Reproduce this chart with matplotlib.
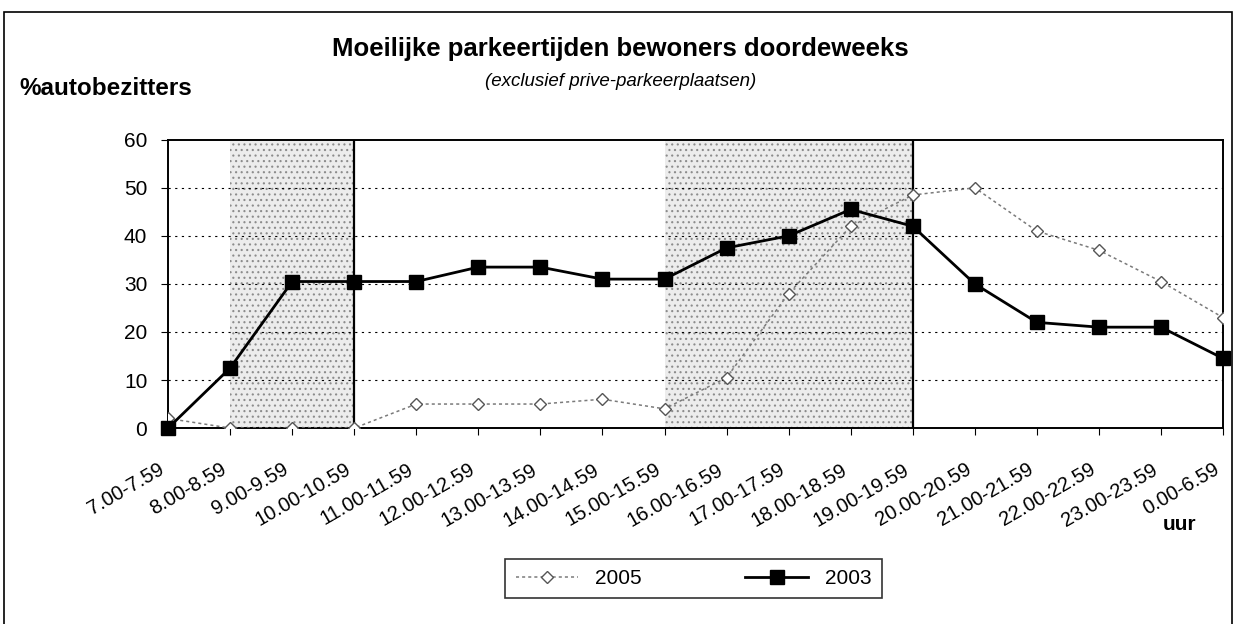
import numpy as np
import matplotlib
matplotlib.use("Agg")
import matplotlib.pyplot as plt
from matplotlib.patches import Rectangle

plt.rcParams.update({
    "font.family": ["Liberation Sans", "DejaVu Sans"],
    "hatch.linewidth": 0.8,
})

# data
categories = ["7.00-7.59", "8.00-8.59", "9.00-9.59", "10.00-10.59", "11.00-11.59",
              "12.00-12.59", "13.00-13.59", "14.00-14.59", "15.00-15.59",
              "16.00-16.59", "17.00-17.59", "18.00-18.59", "19.00-19.59",
              "20.00-20.59", "21.00-21.59", "22.00-22.59", "23.00-23.59",
              "0.00-6.59"]
y2005 = [2, 0, 0, 0, 5, 5, 5, 6, 4, 10.5, 28, 42, 48.5, 50, 41, 37, 30.5, 23]
y2003 = [0, 12.5, 30.5, 30.5, 30.5, 33.5, 33.5, 31, 31, 37.5, 40, 45.5, 42,
         30, 22, 21, 21, 14.5]
busy_spans = [(1, 3), (8, 12)]   # shaded (stippled) periods
dividers = [3, 12]

fig = plt.figure(figsize=(12.36, 6.24), dpi=100)
fig.patches.append(Rectangle((0.003, -0.01), 0.994, 0.99, transform=fig.transFigure,
                             fill=False, edgecolor="black", linewidth=1.2))

ax = fig.add_axes([0.136, 0.314, 0.8535, 0.462])
x = np.arange(len(categories))

for a, b in busy_spans:
    ax.axvspan(a, b, facecolor="#ececec", edgecolor="#8c8c8c", hatch="...",
               linewidth=0, zorder=0)
for d in dividers:
    ax.axvline(d, color="black", linewidth=1.6, zorder=1)

ax.set_yticks(range(0, 61, 10))
for v in range(10, 60, 10):
    ax.axhline(v, color="black", linestyle=(0, (2, 4)), linewidth=0.8, zorder=1)

ax.plot(x, y2005, color="#7a7a7a", linestyle=(0, (2, 2)), linewidth=1.1,
        marker="D", markersize=6, markerfacecolor="white",
        markeredgecolor="#555555", markeredgewidth=1.0, label="2005", zorder=3)
ax.plot(x, y2003, color="black", linewidth=2.0, marker="s", markersize=10,
        markerfacecolor="black", markeredgecolor="black", label="2003", zorder=4,
        clip_on=False)

ax.set_xlim(0, len(categories) - 1)
ax.set_ylim(0, 60)
ax.set_xticks(x)
ax.set_xticklabels([])
# category labels sit a little left of and below their tick, as in Excel
for i, lab in zip(x, categories):
    ax.annotate(lab, (i, 0), xycoords=("data", "axes fraction"),
                xytext=(-7, -23), textcoords="offset points", rotation=30,
                ha="right", va="top", rotation_mode="anchor", fontsize=14.5,
                annotation_clip=False)
ax.tick_params(axis="y", labelsize=15, direction="out", length=5, pad=10)
ax.tick_params(axis="x", direction="out", length=5)
for s in ax.spines.values():
    s.set_linewidth(1.4)

fig.text(0.502, 0.922, "Moeilijke parkeertijden bewoners doordeweeks",
         ha="center", va="center", fontsize=18.5, fontweight="bold")
fig.text(0.502, 0.870, "(exclusief prive-parkeerplaatsen)", ha="center",
         va="center", fontsize=13.5, style="italic")
fig.text(0.016, 0.858, "%autobezitters", ha="left", va="center",
         fontsize=17.5, fontweight="bold")
fig.text(0.941, 0.159, "uur", ha="left", va="center", fontsize=15,
         fontweight="bold")

leg = fig.legend(loc="center", bbox_to_anchor=(0.561, 0.073), ncol=2,
                 fontsize=15, frameon=True, fancybox=False, edgecolor="black",
                 handlelength=3.0, columnspacing=5.0, borderpad=0.5)
leg.get_frame().set_linewidth(1.2)

fig.savefig("out.png", dpi=100)
